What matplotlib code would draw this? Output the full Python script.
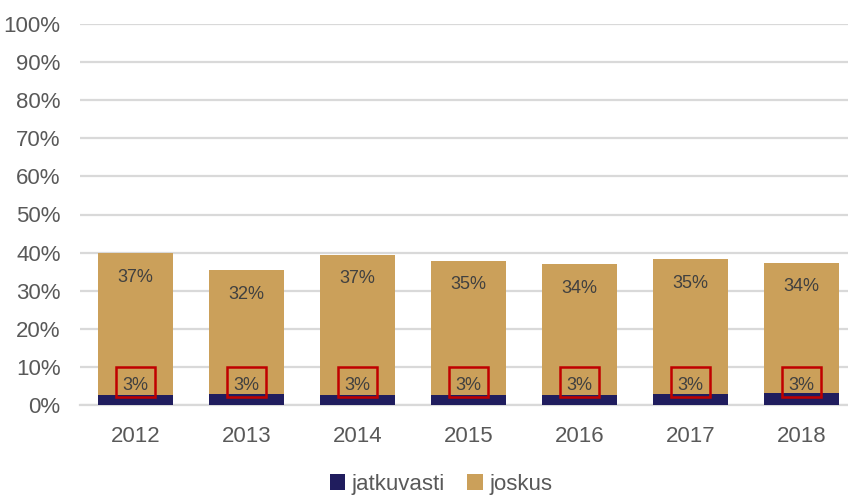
import matplotlib
matplotlib.use("Agg")
import matplotlib.pyplot as plt
from matplotlib.patches import Rectangle
import numpy as np

plt.rcParams['font.family'] = ['Liberation Sans', 'DejaVu Sans']

years = ['2012', '2013', '2014', '2015', '2016', '2017', '2018']
jatkuvasti = [2.6, 3.0, 2.6, 2.6, 2.6, 2.9, 3.2]
joskus = [37.2, 32.4, 36.8, 35.2, 34.4, 35.4, 34.2]

navy = '#201D5E'
tan = '#CBA05A'
grid_col = '#D9D9D9'
text_col = '#595959'
label_col = '#404040'

fig = plt.figure(figsize=(8.48, 4.97), dpi=100)
ax = fig.add_axes([80/848, (497-405)/497, 1 - 80/848, (405-24)/497])

x = np.arange(len(years))
w = 0.67
ax.bar(x, jatkuvasti, w, color=navy, label='jatkuvasti', zorder=3)
ax.bar(x, joskus, w, bottom=jatkuvasti, color=tan, label='joskus', zorder=3)

ax.set_ylim(0, 100)
ax.set_xlim(-0.5, 6.42)
ax.set_yticks(np.arange(0, 101, 10))
ax.set_yticklabels([f'{v}%' for v in range(0, 101, 10)])
ax.set_xticks(x)
ax.set_xticklabels(years)
ax.yaxis.grid(True, color=grid_col, linewidth=1.6, zorder=0)
ax.set_axisbelow(True)
for s in ['top', 'right', 'left']:
    ax.spines[s].set_visible(False)
ax.spines['bottom'].set_color(grid_col)
ax.spines['bottom'].set_linewidth(1.6)
ax.tick_params(axis='both', length=0, labelsize=16, colors=text_col)
ax.tick_params(axis='y', pad=14)
ax.tick_params(axis='x', pad=15)

# value labels: 'joskus' near the top of each bar, 'jatkuvasti' boxed in red near the base
for i in range(len(years)):
    top = jatkuvasti[i] + joskus[i]
    ax.text(x[i], top - 6.3, f'{joskus[i]:.0f}%', ha='center', va='center',
            fontsize=13, color=label_col, zorder=4)
    ax.text(x[i], 5.2, f'{jatkuvasti[i]:.0f}%', ha='center', va='center',
            fontsize=13, color=label_col, zorder=4)
    ax.add_patch(Rectangle((x[i] - 0.175, 2.0), 0.35, 7.9, fill=False,
                           edgecolor='#C00000', linewidth=1.8, zorder=5))

leg = fig.legend(loc='lower center', bbox_to_anchor=(0.52, -0.036), ncol=2,
                 frameon=False, fontsize=16, handlelength=0.7, handleheight=0.7,
                 handletextpad=0.3, columnspacing=1.0)
for t in leg.get_texts():
    t.set_color(text_col)

fig.savefig('out.png', dpi=100)
